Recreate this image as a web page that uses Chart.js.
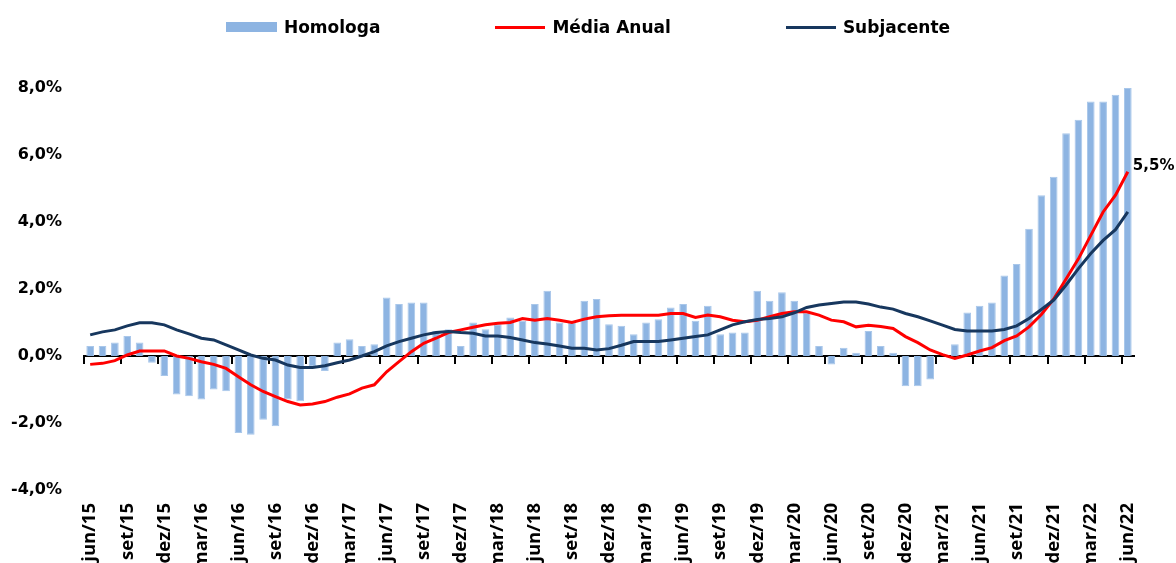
<!DOCTYPE html>
<html lang="pt">
<head>
<meta charset="utf-8">
<title>Inflação homóloga, média anual e subjacente</title>
<script src="https://cdn.jsdelivr.net/npm/chart.js@4.4.1/dist/chart.umd.min.js"></script>
<style>
  html, body { margin: 0; padding: 0; background: #fff; overflow: hidden; }
  #wrap { position: relative; width: 1176px; height: 563px; }
  #legend {
    position: absolute; top: 16px; left: 0; width: 1176px;
    display: flex; justify-content: center; gap: 115px;
    font: bold 17px "DejaVu Sans", sans-serif; color: #000;
  }
  #legend .item { display: flex; align-items: center; gap: 7px; height: 22px; }
  #legend .mark { display: inline-block; width: 50px; }
</style>
</head>
<body>
<div id="wrap">
  <canvas id="myChart" width="1176" height="563"></canvas>
  <div id="legend"></div>
</div>
<script>
// meses (jun/15 a jun/22)
const months = [
  'jun/15','jul/15','ago/15','set/15','out/15','nov/15','dez/15',
  'jan/16','fev/16','mar/16','abr/16','mai/16','jun/16','jul/16','ago/16','set/16','out/16','nov/16','dez/16',
  'jan/17','fev/17','mar/17','abr/17','mai/17','jun/17','jul/17','ago/17','set/17','out/17','nov/17','dez/17',
  'jan/18','fev/18','mar/18','abr/18','mai/18','jun/18','jul/18','ago/18','set/18','out/18','nov/18','dez/18',
  'jan/19','fev/19','mar/19','abr/19','mai/19','jun/19','jul/19','ago/19','set/19','out/19','nov/19','dez/19',
  'jan/20','fev/20','mar/20','abr/20','mai/20','jun/20','jul/20','ago/20','set/20','out/20','nov/20','dez/20',
  'jan/21','fev/21','mar/21','abr/21','mai/21','jun/21','jul/21','ago/21','set/21','out/21','nov/21','dez/21',
  'jan/22','fev/22','mar/22','abr/22','mai/22','jun/22'
]

// taxa de variação homóloga (%)
const homologa = [
  0.3, 0.3, 0.4, 0.6, 0.4, -0.2, -0.6,
  -1.15, -1.2, -1.3, -1.0, -1.05, -2.3, -2.35, -1.9, -2.1, -1.3, -1.35, -0.3,
  -0.45, 0.4, 0.5, 0.3, 0.35, 1.75, 1.55, 1.6, 1.6, 0.75, 0.8, 0.3,
  1.0, 0.8, 0.95, 1.15, 1.05, 1.55, 1.95, 1.0, 1.0, 1.65, 1.7, 0.95,
  0.9, 0.65, 1.0, 1.1, 1.45, 1.55, 1.05, 1.5, 0.65, 0.7, 0.7, 1.95,
  1.65, 1.9, 1.65, 1.3, 0.3, -0.25, 0.25, 0.1, 0.75, 0.3, 0.1, -0.9,
  -0.9, -0.7, 0.0, 0.35, 1.3, 1.5, 1.6, 2.4, 2.75, 3.8, 4.8, 5.35,
  6.65, 7.05, 7.6, 7.6, 7.8, 8.0
]

// média anual (%)
const mediaAnual = [
  -0.25, -0.22, -0.14, 0.03, 0.15, 0.15, 0.15,
  0.0, -0.07, -0.17, -0.25, -0.37, -0.62, -0.86, -1.06, -1.21, -1.36, -1.46, -1.43,
  -1.36, -1.23, -1.13, -0.96, -0.86, -0.47, -0.17, 0.13, 0.38, 0.53, 0.7, 0.78,
  0.86, 0.93, 0.98, 1.0, 1.12, 1.07, 1.12, 1.07, 1.0, 1.1, 1.17, 1.2,
  1.22, 1.22, 1.22, 1.22, 1.27, 1.27, 1.15, 1.22, 1.17, 1.07, 1.02, 1.07,
  1.17, 1.27, 1.32, 1.32, 1.22, 1.07, 1.02, 0.87, 0.92, 0.88, 0.82, 0.58,
  0.4, 0.18, 0.04, -0.07, 0.03, 0.15, 0.25, 0.46, 0.6, 0.87, 1.24, 1.7,
  2.3, 2.9, 3.6, 4.3, 4.8, 5.5
]

// inflação subjacente (%)
const subjacente = [
  0.63, 0.72, 0.78, 0.9, 0.99, 0.99, 0.93,
  0.78, 0.66, 0.53, 0.48, 0.33, 0.18, 0.03, -0.07, -0.12, -0.27, -0.34, -0.34,
  -0.29, -0.2, -0.12, 0.0, 0.13, 0.3, 0.43, 0.53, 0.63, 0.7, 0.73, 0.7,
  0.68, 0.6, 0.6, 0.55, 0.48, 0.4, 0.36, 0.3, 0.23, 0.23, 0.18, 0.22,
  0.32, 0.43, 0.43, 0.43, 0.48, 0.53, 0.58, 0.63, 0.78, 0.93, 1.02, 1.09,
  1.12, 1.17, 1.29, 1.45, 1.52, 1.57, 1.61, 1.61, 1.55, 1.46, 1.4, 1.27,
  1.17, 1.05, 0.92, 0.79, 0.75, 0.75, 0.75, 0.79, 0.9, 1.12, 1.39, 1.67,
  2.12, 2.61, 3.06, 3.45, 3.77, 4.3
]

const yTicks = [-4, -2, 0, 2, 4, 6, 8]

function pct(v) {
  return v.toFixed(1).replace('.', ',') + '%'
}

// etiqueta do último valor da média anual
const lastLabel = {
  id: 'lastLabel',
  afterDatasetsDraw(chart) {
    const meta = chart.getDatasetMeta(1)
    const pt = meta.data[meta.data.length - 1]
    const ctx = chart.ctx
    ctx.save()
    ctx.font = 'bold 15px "DejaVu Sans"'
    ctx.fillStyle = '#000'
    ctx.textAlign = 'left'
    ctx.textBaseline = 'middle'
    ctx.fillText(pct(mediaAnual[mediaAnual.length - 1]), pt.x + 5, pt.y - 6)
    ctx.restore()
  }
}

const ctx = document.getElementById('myChart').getContext('2d')
const chart = new Chart(ctx, {
  type: 'bar',
  data: {
    labels: months,
    datasets: [{
      label: 'Homologa',
      data: homologa,
      backgroundColor: '#8DB4E2',
      borderColor: '#A9C7EA',
      borderWidth: 1,
      barPercentage: 0.62,
      categoryPercentage: 1,
      order: 3
    }, {
      type: 'line',
      label: 'Média Anual',
      data: mediaAnual,
      borderColor: '#FF0000',
      backgroundColor: '#FF0000',
      borderWidth: 3,
      pointRadius: 0,
      tension: 0,
      order: 2
    }, {
      type: 'line',
      label: 'Subjacente',
      data: subjacente,
      borderColor: '#17375E',
      backgroundColor: '#17375E',
      borderWidth: 3,
      pointRadius: 0,
      tension: 0,
      order: 1
    }]
  },
  options: {
    responsive: false,
    animation: false,
    layout: { padding: { top: 88, right: 42, bottom: 0, left: 0 } },
    plugins: {
      legend: { display: false },
      tooltip: { enabled: false }
    },
    scales: {
      x: {
        grid: { display: false, drawTicks: false },
        border: { display: false },
        ticks: {
          autoSkip: false,
          maxRotation: 90,
          minRotation: 90,
          padding: 13,
          color: '#000',
          font: { family: '"Open Sans"', size: 18.5, weight: 'bold' },
          callback: (v, i) => i % 3 === 0 ? months[i] : ''
        },
        afterFit: s => { s.height = 73 }
      },
      // eixo no valor zero, com marcas trimestrais
      x0: {
        type: 'category',
        axis: 'x',
        position: { y: 0 },
        offset: true,
        grid: {
          offset: true,
          drawOnChartArea: false,
          drawTicks: true,
          tickLength: 7,
          lineWidth: 2,
          color: c => c.index % 3 === 0 ? '#000' : 'rgba(0,0,0,0)',
          tickColor: c => c.index % 3 === 0 ? '#000' : 'rgba(0,0,0,0)'
        },
        border: { display: true, color: '#000', width: 2 },
        ticks: { display: false }
      },
      y: {
        min: -4,
        max: 8,
        grid: { display: false, drawTicks: false },
        border: { display: false },
        afterBuildTicks: s => { s.ticks = yTicks.map(v => ({ value: v })) },
        ticks: {
          padding: 22,
          color: '#000',
          font: { family: '"DejaVu Sans"', size: 16, weight: 'bold' },
          callback: v => pct(v)
        },
        afterFit: s => { s.width = 84 }
      }
    }
  },
  plugins: [lastLabel]
})

// legenda em HTML
const legend = document.getElementById('legend')
chart.data.datasets.forEach(ds => {
  const item = document.createElement('div')
  item.className = 'item'
  const mark = document.createElement('span')
  mark.className = 'mark'
  mark.style.background = ds.type === 'line' ? ds.borderColor : ds.backgroundColor
  mark.style.height = ds.type === 'line' ? '3px' : '10px'
  if (ds.type !== 'line') mark.style.width = '51px'
  const txt = document.createElement('span')
  txt.textContent = ds.label
  item.appendChild(mark)
  item.appendChild(txt)
  legend.appendChild(item)
})
</script>
</body>
</html>
